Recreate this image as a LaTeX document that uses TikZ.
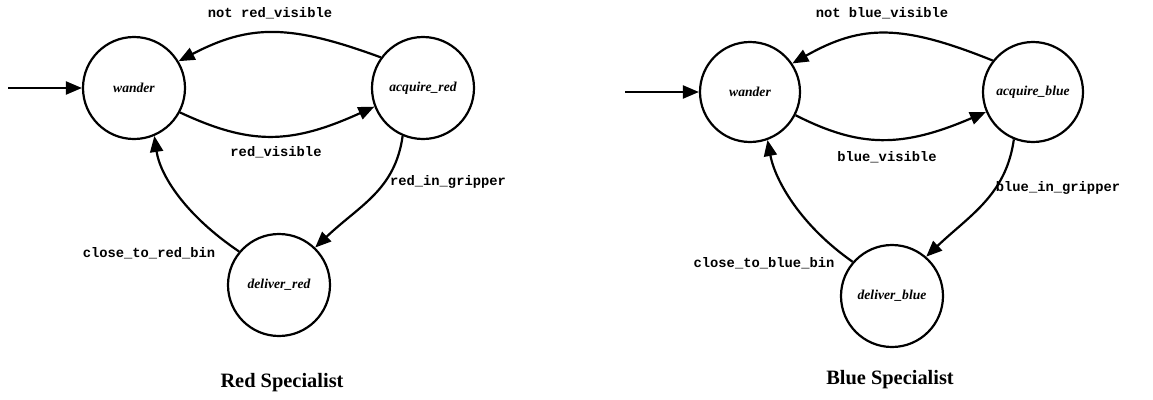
\documentclass[tikz,border=0pt]{standalone}
\usepackage{fontspec}
\setmainfont{Liberation Serif}
\newfontfamily\codefont{Liberation Mono}
\usetikzlibrary{arrows.meta}
\begin{document}
\begin{tikzpicture}[x=1pt,y=-1pt,
  state/.style={circle,draw,line width=2.2pt,minimum size=102pt,inner sep=0pt,
    font=\fontsize{13.6}{16}\selectfont\bfseries\itshape},
  trans/.style={line width=2.2pt,-{Triangle[length=16pt,width=13pt]}},
  cond/.style={font=\fontsize{13.8}{16}\selectfont\codefont\bfseries,inner sep=0pt},
  title/.style={font=\fontsize{20.4}{24}\selectfont\bfseries,inner sep=0pt}]
\useasboundingbox (0,0) rectangle (1153,399);
% ---------- Red specialist ----------
\node[state] (w1) at (134,88) {wander};
\node[state] (a1) at (423,88) {acquire\_red};
\node[state] (d1) at (279,285) {deliver\_red};
\coordinate (s1) at (8,88);
\draw[trans] (s1) -- (w1.west);
\draw[trans] (a1.144) .. controls (290,24) and (250,24) .. (w1.31);
\draw[trans] (w1.-28) .. controls (250,145) and (290,145) .. (a1.-159);
\draw[trans] (a1.-113) .. controls (395,190) and (360,205) .. (d1.46);
\draw[trans] (d1.140) .. controls (185,215) and (160,175) .. (w1.-67);
\node[cond] (l1) at (270,13) {not red\_visible};
\node[cond] (l2) at (276,152) {red\_visible};
\node[cond] (l3) at (448,182) {red\_in\_gripper};
\node[cond] (l4) at (149,253) {close\_to\_red\_bin};
\node[title] (t1) at (282,383) {Red Specialist};
% ---------- Blue specialist ----------
\node[state,minimum size=100pt] (w2) at (750,92) {wander};
\node[state,minimum size=100pt] (a2) at (1033,92) {acquire\_blue};
\node[state,minimum size=102pt] (d2) at (892,296) {deliver\_blue};
\coordinate (s2) at (625,92);
\draw[trans] (s2) -- (w2.west);
\draw[trans] (a2.142) .. controls (902,24) and (862,24) .. (w2.34);
\draw[trans] (w2.-27) .. controls (860,148) and (902,148) .. (a2.-157);
\draw[trans] (a2.-112) .. controls (1006,195) and (970,215) .. (d2.49);
\draw[trans] (d2.139) .. controls (800,225) and (775,180) .. (w2.-70);
\node[cond] (m1) at (882,13) {not blue\_visible};
\node[cond] (m2) at (887,157) {blue\_visible};
\node[cond] (m3) at (1058,188) {blue\_in\_gripper};
\node[cond] (m4) at (764,263) {close\_to\_blue\_bin};
\node[title] (t2) at (890,380) {Blue Specialist};
\end{tikzpicture}
\end{document}
